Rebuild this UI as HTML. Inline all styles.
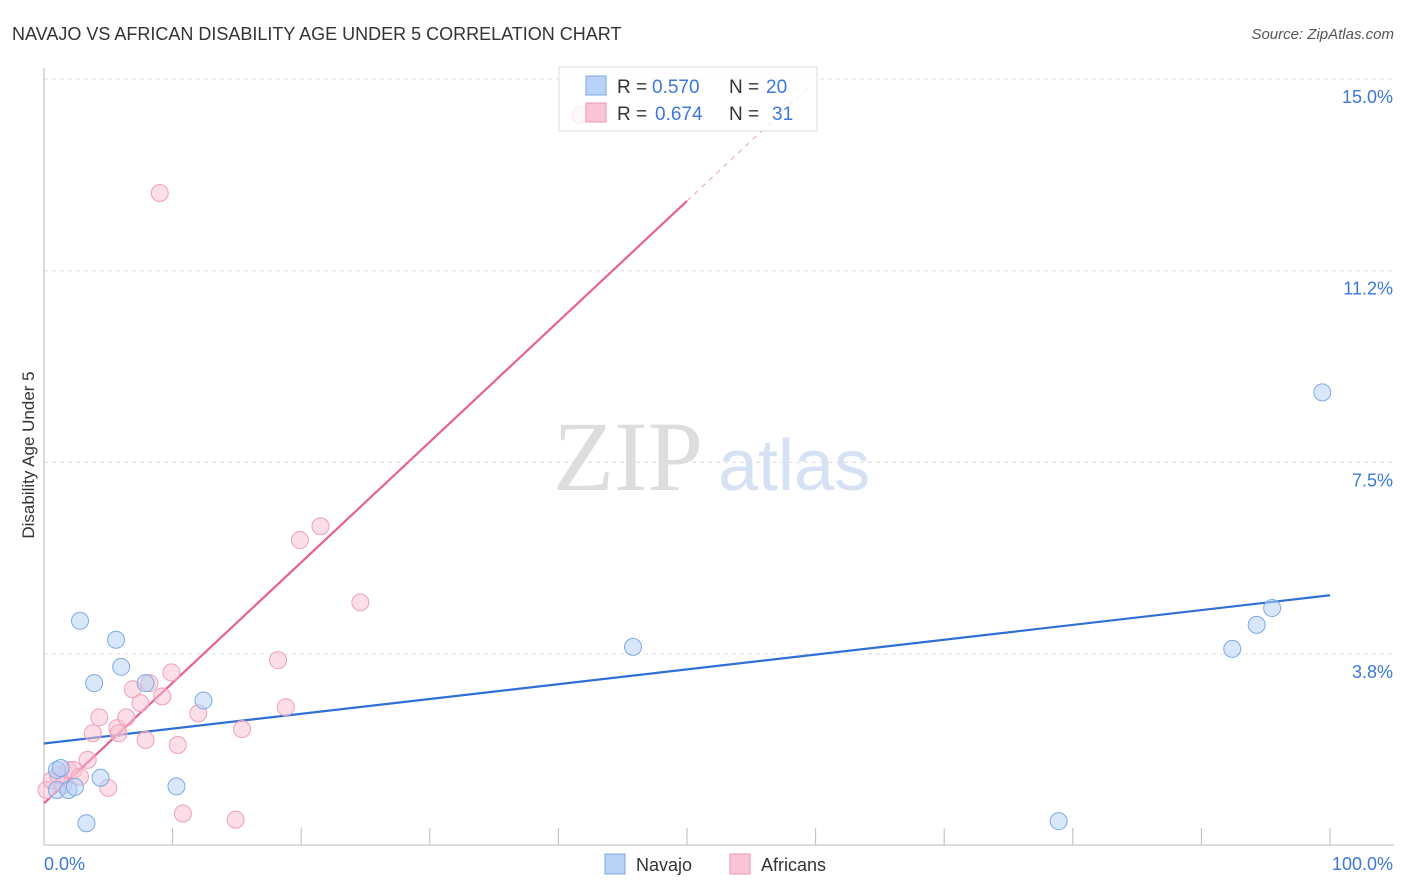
<!DOCTYPE html>
<html><head><meta charset="utf-8">
<style>
body{margin:0;background:#fff;font-family:"Liberation Sans",sans-serif;}
</style></head>
<body>
<svg id="chart" width="1406" height="892" xmlns="http://www.w3.org/2000/svg" style="display:block">
<text x="12" y="40" font-size="18" fill="#333">NAVAJO VS AFRICAN DISABILITY AGE UNDER 5 CORRELATION CHART</text>
<text x="1394" y="39" font-size="15" fill="#555" font-style="italic" text-anchor="end">Source: ZipAtlas.com</text>
<text x="34" y="455" font-size="17" fill="#333" transform="rotate(-90 34 455)" text-anchor="middle">Disability Age Under 5</text>
<g><text x="553" y="490" font-size="100" fill="#ddd" font-family="Liberation Serif,serif">ZIP</text><text x="718" y="490" font-size="72" fill="#d6e2f3">atlas</text></g>
<g id="grid"></g><g id="axes"></g><g id="lines"></g><g id="pts"></g>
<g>
<rect x="559" y="67" width="258" height="64" fill="rgba(255,255,255,0.75)" stroke="#ddd"/>
<rect x="586" y="76" width="20" height="19" fill="#b8d3f5" stroke="#7aa8e6"/>
<text x="617" y="93" font-size="19" fill="#333">R =</text>
<text x="652" y="93" font-size="19" fill="#3b78d8">0.570</text>
<text x="729" y="93" font-size="19" fill="#333">N =</text>
<text x="766" y="93" font-size="19" fill="#3b78d8">20</text>
<rect x="586" y="103" width="20" height="19" fill="#f9c6d5" stroke="#ef94b0"/>
<text x="617" y="120" font-size="19" fill="#333">R =</text>
<text x="655" y="120" font-size="19" fill="#3b78d8">0.674</text>
<text x="729" y="120" font-size="19" fill="#333">N =</text>
<text x="772" y="120" font-size="19" fill="#3b78d8">31</text>
</g>
<g>
<rect x="605" y="854" width="20" height="20" fill="#b8d3f5" stroke="#7aa8e6"/>
<text x="636" y="871" font-size="18" fill="#333">Navajo</text>
<rect x="730" y="854" width="20" height="20" fill="#f9c6d5" stroke="#ef94b0"/>
<text x="761" y="871" font-size="18" fill="#333">Africans</text>
</g>
</svg>
<script>
const yTicks=[3.75,7.5,11.25,15];
const yTickLabels=["3.8%","7.5%","11.2%","15.0%"];
const navajoX=[1,1.0,1.3,1.9,2.4,2.8,3.3,3.9,4.4,5.6,6.0,7.9,10.3,12.4,45.8,78.9,92.4,94.3,95.5,99.4];
const navajoY=[1.09,1.48,1.52,1.09,1.15,4.4,0.44,3.18,1.33,4.03,3.5,3.18,1.16,2.84,3.89,0.48,3.85,4.32,4.65,8.87];
const africanX=[0.2,0.6,1.1,1.5,1.9,2.3,2.8,3.4,3.8,4.3,5.0,5.7,5.8,6.4,6.9,7.5,7.9,8.2,9.2,9.9,10.4,10.8,12.0,14.9,15.4,18.2,18.8,19.9,21.5,24.6,9.0,41.7];
const africanY=[1.09,1.28,1.38,1.19,1.48,1.48,1.35,1.68,2.2,2.51,1.13,2.3,2.2,2.51,3.06,2.79,2.07,3.18,2.92,3.39,1.97,0.63,2.59,0.51,2.28,3.63,2.71,5.98,6.25,4.76,12.77,14.3];
const navajoLine=[2.0,4.9];   // y at x=0 and x=100
const africanLine=[0.83,24.4];
const X=v=>44+v*12.86, Y=v=>845.7-v*51.11;
const NS="http://www.w3.org/2000/svg";
function mk(p,t,a){const e=document.createElementNS(NS,t);for(const k in a)e.setAttribute(k,a[k]);document.getElementById(p).appendChild(e);return e;}
yTicks.forEach((t,i)=>{
 const l=mk('grid','line',{x1:44,x2:1394,y1:Y(t),y2:Y(t),stroke:'#ddd','stroke-dasharray':'4,4'});
 
 
 const tx=mk('grid','text',{x:1393,y:Y(t)+24,'font-size':18,fill:'#3b78d8','text-anchor':'end'});tx.textContent=yTickLabels[i];
 
 
});
let a=mk('axes','line',{x1:44,x2:1394,y1:845,y2:845,stroke:'#bbb'});


a=mk('axes','line',{x1:44,x2:44,y1:68,y2:845,stroke:'#bbb'});


for(let i=1;i<=10;i++){const t=mk('axes','line',{x1:X(i*10),x2:X(i*10),y1:828,y2:845,stroke:'#bbb'});
 
 }
[["0.0%",44,'start'],["100.0%",1393,'end']].forEach(d=>{const t=mk('axes','text',{x:d[1],y:870,'font-size':18,fill:'#3b78d8','text-anchor':d[2]});t.textContent=d[0];
 
 });
africanX.forEach((x,i)=>{const c=mk('pts','circle',{cx:X(x),cy:Y(africanY[i]),r:8.5,fill:'rgba(248,190,208,0.5)',stroke:'#efa0b8','stroke-width':1});
 
 });
navajoX.forEach((x,i)=>{const c=mk('pts','circle',{cx:X(x),cy:Y(navajoY[i]),r:8.5,fill:'rgba(180,208,245,0.5)',stroke:'#7eaae6','stroke-width':1});
 
 });
let l=mk('lines','line',{x1:X(0),y1:Y(navajoLine[0]),x2:X(100),y2:Y(navajoLine[1]),stroke:'#2f6fd6','stroke-width':2.2});


const aY=x=>africanLine[0]+(africanLine[1]-africanLine[0])*x/100;
l=mk('lines','line',{x1:X(0),y1:Y(aY(0)),x2:X(50),y2:Y(aY(50)),stroke:'#e8628e','stroke-width':2.2});


l=mk('lines','line',{x1:X(50),y1:Y(aY(50)),x2:X(59.6),y2:Y(aY(59.6)),stroke:'#e8a0b8','stroke-width':1,'stroke-dasharray':'5,5'});


</script>
</body></html>
